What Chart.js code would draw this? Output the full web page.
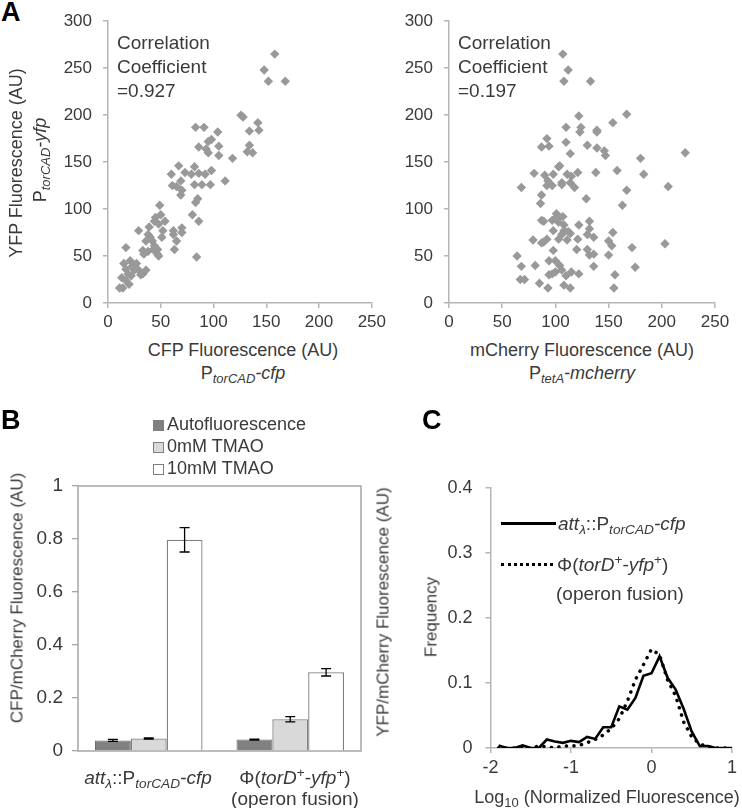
<!DOCTYPE html>
<html>
<head>
<meta charset="utf-8">
<script src="https://cdn.jsdelivr.net/npm/chart.js@4.4.0/dist/chart.umd.min.js"></script>
<style>
body { margin: 0; background: #fff; }
#fig { position: relative; width: 742px; height: 808px; overflow: hidden; font-family: 'Liberation Sans', Arial, sans-serif; color: #3a3a3a; }
#fig canvas { position: absolute; }
.t { position: absolute; white-space: nowrap; font-size: 18px; line-height: 1; transform: translate(-50%, -50%); }
.l { position: absolute; white-space: nowrap; font-size: 18px; line-height: 1; transform: translateY(-50%); }
.v { transform: translate(-50%, -50%) rotate(-90deg); }
.panel { position: absolute; font-weight: bold; font-size: 27px; line-height: 1; color: #000; }
.corr { position: absolute; font-size: 19px; line-height: 24px; }
sub { font-size: 0.72em; vertical-align: -0.3em; line-height: 0; }
sup { font-size: 0.72em; vertical-align: 0.45em; line-height: 0; }
.sq { display: inline-block; width: 9px; height: 9px; border: 1px solid #7f7f7f; margin-right: 3px; vertical-align: -1px; }
.ln { position: absolute; height: 0; }
</style>
</head>
<body>
<div id="fig">
  <canvas id="chartA1" width="350" height="340" style="left:40px;top:0px"></canvas>
  <canvas id="chartA2" width="352" height="340" style="left:390px;top:0px"></canvas>
  <canvas id="chartB" width="371" height="408" style="left:0px;top:400px"></canvas>
  <canvas id="chartC" width="371" height="408" style="left:371px;top:400px"></canvas>

  <div class="panel" style="left:1px;top:-1px">A</div>
  <div class="panel" style="left:1px;top:407px">B</div>
  <div class="panel" style="left:422px;top:407px">C</div>

  <div class="corr" style="left:117px;top:31px">Correlation<br>Coefficient<br>=0.927</div>
  <div class="corr" style="left:458px;top:31px">Correlation<br>Coefficient<br>=0.197</div>

  <div class="t" style="left:243px;top:350px">CFP Fluorescence (AU)</div>
  <div class="t" style="left:243px;top:373px">P<sub><i>torCAD</i></sub><i>-cfp</i></div>
  <div class="t v" style="left:16px;top:163px">YFP Fluorescence (AU)</div>
  <div class="t v" style="left:40px;top:160px">P<sub><i>torCAD</i></sub><i>-yfp</i></div>
  <div class="t" style="left:582px;top:350px">mCherry Fluorescence (AU)</div>
  <div class="t" style="left:582px;top:373px">P<sub><i>tetA</i></sub><i>-mcherry</i></div>

  <div class="l" style="left:153px;top:424px"><span class="sq" style="background:#808080"></span>Autofluorescence</div>
  <div class="l" style="left:153px;top:446px"><span class="sq" style="background:#d9d9d9"></span>0mM TMAO</div>
  <div class="l" style="left:153px;top:468px"><span class="sq" style="background:#fff"></span>10mM TMAO</div>
  <div class="t v" style="left:17px;top:598px;font-size:17px">CFP/mCherry Fluorescence (AU)</div>
  <div class="t" style="left:148px;top:777px;font-size:19px"><i>att<sub>λ</sub></i>::P<sub><i>torCAD</i></sub><i>-cfp</i></div>
  <div class="t" style="left:295px;top:777px;font-size:19px">Φ(<i>torD</i><sup>+</sup>-<i>yfp</i><sup>+</sup>)</div>
  <div class="t" style="left:295px;top:798px;font-size:19px">(operon fusion)</div>

  <div class="t v" style="left:383px;top:612px;font-size:17px">YFP/mCherry Fluorescence (AU)</div>
  <div class="t v" style="left:431px;top:617px;font-size:17px">Frequency</div>
  <div class="t" style="left:607px;top:797px">Log<sub>10</sub> (Normalized Fluorescence)</div>
  <div class="ln" style="left:501px;top:522px;width:55px;border-top:3px solid #000"></div>
  <div class="l" style="left:558px;top:523px;font-size:19px"><i>att<sub>λ</sub></i>::P<sub><i>torCAD</i></sub><i>-cfp</i></div>
  <div class="ln" style="left:501px;top:563px;width:52px;border-top:3px dotted #000"></div>
  <div class="l" style="left:557px;top:564px;font-size:19px">Φ(<i>torD</i><sup>+</sup>-<i>yfp</i><sup>+</sup>)</div>
  <div class="l" style="left:556px;top:593px;font-size:19px">(operon fusion)</div>
</div>
<script>
// Panel A, left: CFP vs YFP (both PtorCAD)
const cfpA = [158,148,152,168,126,128,142,134,143,134,132,137,118,83,91,104,98,95,86,105,
  93,105,95,67,82,73,86,79,92,98,60,69,111,61,65,70,69,82,89,97,85,83,80,86,49,45,50,54,44,52,
  48,29,39,38,40,36,42,33,44,47,43,51,38,47,48,62,62,70,70,65,63,84,17,15,21,23,17,25,27,29,
  33,36,19,22,13,17,20,11,14,24,31,34];
const yfpA = [265,248,236,236,200,198,192,183,184,168,161,160,154,187,187,182,174,172,166,167,
  164,157,160,146,145,139,138,137,137,141,137,130,130,125,124,120,115,126,126,126,111,107,94,87,104,91,94,87,87,77,
  84,77,81,73,70,66,66,56,61,57,57,70,55,52,50,77,73,80,75,66,57,49,59,42,45,39,36,35,42,35,
  31,35,31,29,27,24,20,16,16,38,30,52];

// Panel A, right: mCherry vs YFP
const mchA = [107,112,108,133,122,167,154,124,110,123,139,139,92,94,87,110,130,139,146,147,
  114,180,222,103,104,98,80,90,111,115,121,138,158,183,93,97,92,106,106,114,118,68,167,206,87,129,86,163,101,103,
  107,87,89,97,100,103,108,132,122,98,108,112,114,106,132,130,136,154,92,79,89,87,103,111,121,150,153,172,203,98,
  120,130,132,136,150,64,94,100,68,81,104,136,175,94,97,100,106,115,122,110,156,67,71,85,93,108,114,155];
const yfpA2 = [265,248,236,236,199,201,192,187,187,182,184,182,175,167,166,171,168,165,162,157,
  159,154,160,145,146,137,138,136,137,135,139,139,141,137,130,125,125,128,126,128,123,123,120,124,115,111,106,104,95,91,
  92,88,87,88,90,86,83,87,83,77,77,76,74,73,79,73,70,75,68,67,65,64,68,67,68,66,61,59,63,56,
  57,57,51,52,51,50,45,45,39,40,40,39,38,30,31,33,35,33,31,29,30,25,25,21,16,19,16,16];

// Panel B
const groupsB = ['att::PtorCAD-cfp', 'torD-yfp operon fusion'];
const seriesB = ['Autofluorescence', '0mM TMAO', '10mM TMAO'];
const autoVals = [0.040, 0.043];
const mm0Vals = [0.047, 0.120];
const mm10Vals = [0.797, 0.297];
const autoErr = [0.004, 0.002];
const mm0Err = [0.002, 0.010];
const mm10Err = [0.046, 0.014];

// Panel C
const logBins = [-1.9,-1.8,-1.7,-1.6,-1.5,-1.4,-1.3,-1.2,-1.1,-1.0,-0.9,-0.8,-0.7,-0.6,-0.5,
  -0.4,-0.3,-0.2,-0.1,0.0,0.1,0.2,0.3,0.4,0.5,0.6,0.7,0.8,0.9,1.0];
const freqCfp = [0.004,0,0,0.004,0,0,0.013,0.010,0.008,0.011,0.009,0.017,0.014,0.032,0.032,
  0.064,0.059,0.077,0.111,0.115,0.141,0.108,0.090,0.060,0.025,0.003,0.003,0,0,0];
const freqOperon = [0,0,0,0,0,0.003,0.002,0,0.003,0.003,0.004,0.008,0.013,0.020,0.030,
  0.045,0.072,0.105,0.128,0.152,0.143,0.105,0.080,0.040,0.017,0.006,0.002,0,0,0];

Chart.defaults.font.family = "'Liberation Sans', Arial, sans-serif";
Chart.defaults.color = '#3a3a3a';
Chart.defaults.animation = false;
Chart.defaults.plugins.legend.display = false;
Chart.defaults.plugins.tooltip.enabled = false;

const axisGrey = '#b5b5b5';

function axis(opts) {
    return {
        type: 'linear',
        min: opts.min,
        max: opts.max,
        border: { display: true, color: axisGrey, width: 1.5 },
        grid: { drawOnChartArea: false, drawTicks: true, tickLength: 5, color: axisGrey, lineWidth: 1.5 },
        ticks: { stepSize: opts.step, font: { size: opts.size }, color: '#3a3a3a', padding: opts.pad,
                 callback: v => +v.toFixed(1) },
        afterFit: s => { if (opts.w) s.width = opts.w; if (opts.h) s.height = opts.h; }
    };
}

function scatterChart(id, xs, ys, yWidth, rightPad) {
    new Chart(document.getElementById(id), {
        type: 'scatter',
        data: {
            datasets: [{
                data: xs.map((x, i) => ({ x: x, y: ys[i] })),
                pointStyle: 'rectRot',
                pointRadius: 4.7,
                backgroundColor: '#999999',
                borderWidth: 0
            }]
        },
        options: {
            responsive: false,
            layout: { padding: { top: 19, right: rightPad, left: 0, bottom: 0 } },
            scales: {
                x: axis({ min: 0, max: 250, step: 50, size: 17, pad: 4, h: 37 }),
                y: axis({ min: 0, max: 300, step: 50, size: 17, pad: 11, w: yWidth })
            }
        }
    });
}

scatterChart('chartA1', cfpA, yfpA, 68, 14);
scatterChart('chartA2', mchA, yfpA2, 59, 27);

// frame round the plot area of panel B
const framePlugin = {
    id: 'frame',
    beforeDatasetsDraw(chart) {
        const a = chart.chartArea, ctx = chart.ctx;
        ctx.save();
        ctx.strokeStyle = '#a6a6a6';
        ctx.lineWidth = 1.5;
        ctx.strokeRect(a.left, a.top, a.right - a.left, a.bottom - a.top);
        ctx.restore();
    }
};

const errorBars = {
    id: 'errorBars',
    afterDatasetsDraw(chart) {
        const ctx = chart.ctx, y = chart.scales.y;
        ctx.save();
        ctx.strokeStyle = '#000';
        ctx.lineWidth = 1.3;
        chart.data.datasets.forEach((ds, i) => {
            chart.getDatasetMeta(i).data.forEach((bar, j) => {
                const hi = y.getPixelForValue(ds.data[j] + ds.err[j]);
                const lo = y.getPixelForValue(ds.data[j] - ds.err[j]);
                ctx.beginPath();
                ctx.moveTo(bar.x, hi); ctx.lineTo(bar.x, lo);
                ctx.moveTo(bar.x - 5, hi); ctx.lineTo(bar.x + 5, hi);
                ctx.moveTo(bar.x - 5, lo); ctx.lineTo(bar.x + 5, lo);
                ctx.stroke();
            });
        });
        ctx.restore();
    }
};

new Chart(document.getElementById('chartB'), {
    type: 'bar',
    data: {
        labels: groupsB,
        datasets: [
            { label: seriesB[0], data: autoVals, err: autoErr, backgroundColor: '#808080', borderColor: '#6e6e6e', borderWidth: 1 },
            { label: seriesB[1], data: mm0Vals, err: mm0Err, backgroundColor: '#d9d9d9', borderColor: '#7f7f7f', borderWidth: 1.3 },
            { label: seriesB[2], data: mm10Vals, err: mm10Err, backgroundColor: '#ffffff', borderColor: '#7f7f7f', borderWidth: 1.3 }
        ]
    },
    options: {
        responsive: false,
        layout: { padding: { top: 86, right: 10, left: 0, bottom: 0 } },
        datasets: { bar: { barPercentage: 1, categoryPercentage: 0.76 } },
        scales: {
            x: {
                grid: { display: false },
                border: { display: false },
                ticks: { display: false },
                afterFit: s => { s.height = 57; }
            },
            y: {
                min: 0, max: 1,
                border: { display: false },
                grid: { drawOnChartArea: false, drawTicks: true, tickLength: 6, color: '#a6a6a6', lineWidth: 1.3 },
                ticks: { stepSize: 0.2, font: { size: 19 }, color: '#3a3a3a', padding: 9, callback: v => +v.toFixed(1) },
                afterFit: s => { s.width = 78; }
            }
        }
    },
    plugins: [framePlugin, errorBars]
});

new Chart(document.getElementById('chartC'), {
    type: 'line',
    data: {
        datasets: [
            {
                label: 'operon fusion',
                data: logBins.map((x, i) => ({ x: x, y: freqOperon[i] })),
                borderColor: '#000',
                borderWidth: 3.5,
                borderDash: [0.1, 7.5],
                borderCapStyle: 'round',
                pointRadius: 0,
                fill: false
            },
            {
                label: 'att::PtorCAD-cfp',
                data: logBins.map((x, i) => ({ x: x, y: freqCfp[i] })),
                borderColor: '#000',
                borderWidth: 2.6,
                pointRadius: 0,
                fill: false
            }
        ]
    },
    options: {
        responsive: false,
        layout: { padding: { top: 88, right: 10, left: 0, bottom: 0 } },
        scales: {
            x: axis({ min: -2, max: 1, step: 1, size: 18, pad: 4, h: 60 }),
            y: axis({ min: 0, max: 0.4, step: 0.1, size: 18, pad: 13, w: 119.5 })
        }
    }
});
</script>
</body>
</html>
